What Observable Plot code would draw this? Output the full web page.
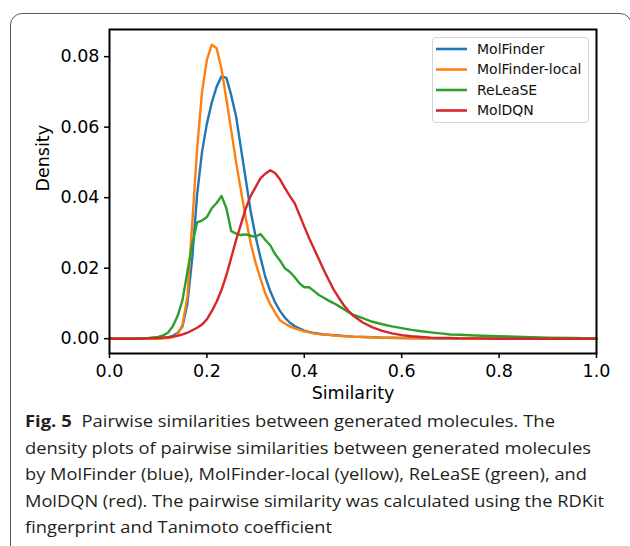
<!DOCTYPE html>
<html>
<head>
<meta charset="utf-8">
<script src="https://cdn.jsdelivr.net/npm/d3@7"></script>
<script src="https://cdn.jsdelivr.net/npm/@observablehq/plot@0.6"></script>
<style>
  html, body { margin: 0; padding: 0; background: #fff; }
  body { width: 630px; height: 546px; position: relative; overflow: hidden; }
  #border { position: absolute; left: 10px; top: 13px; width: 622px; height: 600px; box-sizing: border-box;
            border: 1.2px solid #5a5a5a; border-radius: 12px; }
  #chart { position: absolute; left: 0; top: 0; }
  #legend { position: absolute; left: 432px; top: 37px; width: 157px; height: 86px; box-sizing: border-box;
            border: 1px solid #d5d5d5; border-radius: 4px; background: rgba(255,255,255,0.85); }
  #caption { position: absolute; left: 25px; top: 0; font-family: "Open Sans", sans-serif; font-size: 16.8px; color: #231f20; }
  .cl { position: absolute; left: 0; white-space: nowrap; transform-origin: 0 0; line-height: 1; }
  .cl b { font-weight: 700; }
</style>
</head>
<body>
<div id="border"></div>
<div id="chart"></div>
<div id="legend"></div>
<div id="caption"></div>
<script>
// ---- data ----
const simGrid = [0, 0.05, 0.08, 0.10, 0.11, 0.12, 0.13, 0.14, 0.15, 0.16, 0.17, 0.18, 0.19, 0.20,
  0.21, 0.22, 0.23, 0.24, 0.25, 0.26, 0.27, 0.28, 0.29, 0.30, 0.31, 0.32, 0.33, 0.34, 0.35,
  0.36, 0.37, 0.38, 0.39, 0.40, 0.41, 0.42, 0.43, 0.44, 0.45, 0.46, 0.47, 0.48, 0.49, 0.50,
  0.52, 0.54, 0.56, 0.58, 0.60, 0.62, 0.64, 0.66, 0.68, 0.70, 0.72, 0.75, 0.80, 0.85, 0.90, 0.95, 1.00];

const molFinder = [0, 0, 0, 0.0001, 0.0002, 0.0004, 0.0008, 0.0016, 0.0035, 0.010, 0.023, 0.041, 0.053, 0.061,
  0.067, 0.0715, 0.0744, 0.0740, 0.069, 0.063, 0.054, 0.045, 0.036, 0.029, 0.023, 0.0175, 0.0135, 0.0103, 0.0079,
  0.0060, 0.0046, 0.0036, 0.0029, 0.0023, 0.0019, 0.0016, 0.0014, 0.0012, 0.0011, 0.0010, 0.0009, 0.0008, 0.0007, 0.0006,
  0.0005, 0.0004, 0.0003, 0.0003, 0.0002, 0.0002, 0.0001, 0.0001, 0.0001, 0.0001, 0, 0, 0, 0, 0, 0, 0];

const molFinderLocal = [0, 0, 0, 0, 0.0001, 0.0002, 0.0004, 0.0012, 0.004, 0.012, 0.033, 0.054, 0.070, 0.0791,
  0.0834, 0.0824, 0.0765, 0.068, 0.059, 0.050, 0.042, 0.034, 0.027, 0.0215, 0.017, 0.0128, 0.0098, 0.0074, 0.0052,
  0.0043, 0.0035, 0.0029, 0.0025, 0.0021, 0.0018, 0.0015, 0.0013, 0.0012, 0.0011, 0.0009, 0.0008, 0.0007, 0.0007, 0.0006,
  0.0005, 0.0004, 0.0003, 0.0002, 0.0002, 0.0001, 0.0001, 0.0001, 0.0001, 0.0001, 0, 0, 0, 0, 0, 0, 0];

const release = [0, 0, 0.0002, 0.0005, 0.0009, 0.0017, 0.0035, 0.0065, 0.011, 0.019, 0.027, 0.033, 0.0335, 0.0345,
  0.037, 0.0385, 0.0405, 0.037, 0.0305, 0.0298, 0.0294, 0.0296, 0.0292, 0.0289, 0.0297, 0.028, 0.0265, 0.024, 0.0222,
  0.0200, 0.0190, 0.0175, 0.0157, 0.0146, 0.0146, 0.0135, 0.0124, 0.0116, 0.0108, 0.0101, 0.0093, 0.0085, 0.0076, 0.0068,
  0.0058, 0.0048, 0.0041, 0.0035, 0.0030, 0.0025, 0.0021, 0.0018, 0.0015, 0.0012, 0.0011, 0.0009, 0.0007, 0.0005, 0.0003, 0.0002, 0.0001];

const molDQN = [0, 0, 0.0001, 0.0002, 0.0003, 0.0004, 0.0006, 0.0008, 0.0012, 0.0017, 0.0024, 0.0031, 0.0040, 0.0055,
  0.0078, 0.0105, 0.0138, 0.0180, 0.0230, 0.0280, 0.0325, 0.0370, 0.0405, 0.0430, 0.0455, 0.0468, 0.0478, 0.0470, 0.0452,
  0.0428, 0.0405, 0.0385, 0.0352, 0.0318, 0.0285, 0.0255, 0.0225, 0.0195, 0.0167, 0.0140, 0.0118, 0.0097, 0.0080, 0.0066,
  0.0046, 0.0032, 0.0022, 0.0015, 0.0010, 0.0007, 0.0005, 0.0003, 0.0002, 0.0002, 0.0001, 0.0001, 0, 0, 0, 0, 0];

const seriesNames = ["MolFinder", "MolFinder-local", "ReLeaSE", "MolDQN"];
const seriesColors = ["#1f77b4", "#ff7f0e", "#2ca02c", "#d62728"];
const xTicks = [0, 0.2, 0.4, 0.6, 0.8, 1.0];
const yTicks = [0, 0.02, 0.04, 0.06, 0.08];
const xLabel = "Similarity";
const yLabel = "Density";
const captionLines = [
  ["Fig. 5", "Pairwise similarities between generated molecules. The"],
  ["", "density plots of pairwise similarities between generated molecules"],
  ["", "by MolFinder (blue), MolFinder-local (yellow), ReLeaSE (green), and"],
  ["", "MolDQN (red). The pairwise similarity was calculated using the RDKit"],
  ["", "fingerprint and Tanimoto coefficient"]
];

// ---- build table ----
const seriesValues = [molFinder, molFinderLocal, release, molDQN];
const rows = [];
seriesValues.forEach((vals, k) => {
  vals.forEach((d, i) => rows.push({s: simGrid[i], d, series: seriesNames[k]}));
});

const chart = Plot.plot({
  width: 630, height: 405,
  marginLeft: 109, marginRight: 34, marginTop: 29, marginBottom: 52,
  style: {fontFamily: "'DejaVu Sans', sans-serif", fontSize: "17.5px", color: "#000", background: "transparent", overflow: "visible"},
  x: {domain: [0, 1]},
  y: {domain: [-0.0042, 0.0877]},
  color: {domain: seriesNames, range: seriesColors},
  marks: [
    Plot.axisX({ticks: xTicks, tickFormat: d3.format(".1f"), tickSize: 5, tickPadding: 6, strokeWidth: 1.5, label: null}),
    Plot.axisY({ticks: yTicks, tickFormat: d3.format(".2f"), tickSize: 5, tickPadding: 5, strokeWidth: 1.5, label: null}),
    Plot.line(rows, {x: "s", y: "d", z: "series", stroke: "series", strokeWidth: 2.4}),
    Plot.frame({stroke: "#000", strokeWidth: 2}),
    Plot.text([xLabel], {text: d => d, frameAnchor: "bottom", dy: 45, fill: "#000"}),
    Plot.text([yLabel], {text: d => d, frameAnchor: "left", dx: -66, rotate: -90, fill: "#000"})
  ]
});
document.getElementById("chart").appendChild(chart);

// ---- legend ----
const ns = "http://www.w3.org/2000/svg";
const lg = document.createElementNS(ns, "svg");
lg.setAttribute("width", 155); lg.setAttribute("height", 84);
const rowY = [11, 31.5, 52, 72.5];
seriesNames.forEach((name, i) => {
  const ln = document.createElementNS(ns, "line");
  ln.setAttribute("x1", 3); ln.setAttribute("x2", 34);
  ln.setAttribute("y1", rowY[i]); ln.setAttribute("y2", rowY[i]);
  ln.setAttribute("stroke", seriesColors[i]); ln.setAttribute("stroke-width", 2.6);
  lg.appendChild(ln);
  const tx = document.createElementNS(ns, "text");
  tx.setAttribute("x", 44); tx.setAttribute("y", rowY[i]); tx.setAttribute("dy", "0.35em");
  tx.setAttribute("font-family", "'DejaVu Sans', sans-serif"); tx.setAttribute("font-size", "14px");
  tx.setAttribute("fill", "#111");
  tx.textContent = name;
  lg.appendChild(tx);
});
document.getElementById("legend").appendChild(lg);

// ---- caption ----
const cap = document.getElementById("caption");
const baseY = [429, 455.5, 482, 508.5, 535];
const rightX = [555, 591, 587, 604, 332];
captionLines.forEach(([bold, rest], i) => {
  const div = document.createElement("div");
  div.className = "cl";
  if (bold) {
    const b = document.createElement("b");
    b.textContent = bold;
    b.style.marginRight = "9px";
    div.appendChild(b);
  }
  div.appendChild(document.createTextNode(rest));
  cap.appendChild(div);
  div.style.top = (baseY[i] - 16.8 * 0.93) + "px";
  const w = div.getBoundingClientRect().width;
  const target = rightX[i] - 25;
  div.style.transform = `scaleX(${target / w})`;
});
</script>
</body>
</html>
